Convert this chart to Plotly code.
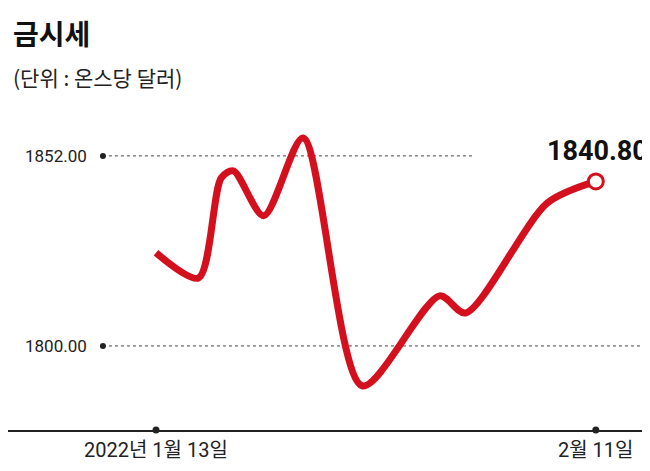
import plotly.graph_objects as go

# day offsets from 2022-01-13, gold price (USD/oz)
days = [0, 2.8, 4.3, 5.1, 7.1, 9.7, 13.6, 18.7, 20.4, 25.8, 29]
price = [1825.5, 1818.6, 1846.0, 1847.9, 1835.6, 1856.9, 1789.1, 1813.7, 1809.0, 1839.1, 1845.0]
last_label = "1840.80"
tick_vals = [1852.00, 1800.00]
x_labels = ["2022년 1월 13일", "2월 11일"]

RED = "#d4101f"
FONT = "Liberation Sans Narrow, Roboto, Noto Sans CJK KR"

fig = go.Figure()
fig.add_trace(go.Scatter(x=days, y=price, mode="lines",
                         line=dict(color=RED, width=7, shape="spline", smoothing=0.8),
                         hoverinfo="skip"))
fig.add_trace(go.Scatter(x=[days[-1]], y=[price[-1]], mode="markers",
                         marker=dict(size=15, color="white", line=dict(color=RED, width=3))))

# gridlines + dots
grid_end = [20.9, 32.5]
for v, xe in zip(tick_vals, grid_end):
    fig.add_shape(type="line", x0=-3.5, x1=xe, y0=v, y1=v,
                  line=dict(color="#444", width=1, dash="dot"), layer="below")
    fig.add_annotation(x=-4.4, y=v, text=f"{v:.2f}", showarrow=False, xanchor="right",
                       font=dict(size=17, color="#222", family=FONT))
fig.add_trace(go.Scatter(x=[-3.5, -3.5], y=tick_vals, mode="markers",
                         marker=dict(size=6, color="#222")))

# x axis dots and labels
fig.add_trace(go.Scatter(x=[days[0], days[-1]], y=[1777, 1777], mode="markers",
                         marker=dict(size=7, color="#222"), cliponaxis=False))
fig.add_annotation(x=days[0], y=-0.02, yref="paper", yanchor="top", text=x_labels[0],
                   showarrow=False, font=dict(size=20, color="#222", family=FONT))
fig.add_annotation(x=days[-1], y=-0.02, yref="paper", yanchor="top", text=x_labels[1],
                   showarrow=False, font=dict(size=20, color="#222", family=FONT))

fig.add_annotation(x=days[-1] + 0.1, y=price[-1] + 3.5, text=f"<b>{last_label}</b>", showarrow=False,
                   yanchor="bottom", font=dict(size=27, color="#111", family=FONT))

fig.add_annotation(x=0.005, y=1.30, xref="paper", yref="paper", xanchor="left", yanchor="top",
                   text="<b>금시세</b>", showarrow=False,
                   font=dict(size=28, color="#111", family="Noto Sans CJK KR"))
fig.add_annotation(x=0.005, y=1.15, xref="paper", yref="paper", xanchor="left", yanchor="top",
                   text="(단위 : 온스당 달러)", showarrow=False,
                   font=dict(size=21, color="#222", family="Noto Sans CJK KR"))

fig.update_layout(
    width=650, height=471, showlegend=False,
    margin=dict(l=0, r=0, t=100, b=49),
    paper_bgcolor="white", plot_bgcolor="white",
    xaxis=dict(range=[-9.76, 33.1], showgrid=False, zeroline=False, showticklabels=False,
               showline=True, linecolor="#222", linewidth=1.5, fixedrange=True),
    yaxis=dict(range=[1777, 1865.1], showgrid=False, zeroline=False, showticklabels=False,
               fixedrange=True),
)
fig.write_html("out.html")
